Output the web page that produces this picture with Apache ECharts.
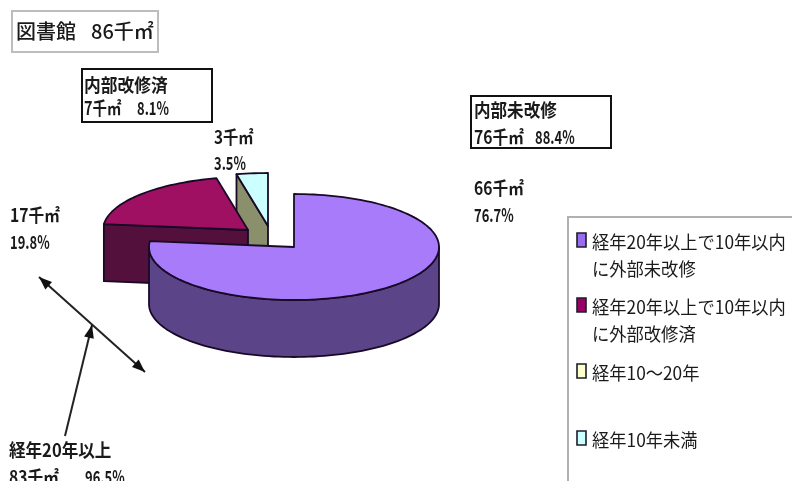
<!DOCTYPE html>
<html>
<head>
<meta charset="utf-8">
<style>html,body{margin:0;padding:0;background:#fff}#c{width:792px;height:481px}</style>
<script src="https://cdn.jsdelivr.net/npm/echarts@6/dist/echarts.min.js"></script>
</head>
<body>
<div id="c"></div>
<script>
// Floor area by building age, in thousand m2
const categories = [['経年20年以上で10年以内', 'に外部未改修'], ['経年20年以上で10年以内', 'に外部改修済'], ['経年10～20年'], ['経年10年未満']];
const values = [66, 17, 0, 3];
const topColors = ['#a87bfb', '#a01062', '#ffffcc', '#ccffff'];
const wallColors = ['#5c4488', '#53103c', '#8c8c66', '#8a8f6c'];
const swatchColors = ['#9a6cf0', '#990066', '#ffffcc', '#ccffff'];
const legendRows = [242, 307, 373, 440];

// Pie geometry: each slice keeps its own exploded centre
const centres = [[294, 247], [248, 230], [258, 226], [268, 226]];
const radiusX = 145, radiusY = 53, depth = 57;
const total = values.reduce((a, b) => a + b, 0);
const drawOrder = [4, 3, 2, 1];

const FONT = '"Noto Sans CJK JP",sans-serif';
const LINE = '#180a26';

function rim(c, deg, drop) {
  const r = deg * Math.PI / 180;
  return [c[0] + radiusX * Math.sin(r), c[1] - radiusY * Math.cos(r) + (drop || 0)];
}
function arc(c, from, to, drop) {
  const pts = [], n = Math.max(2, Math.ceil((to - from) / 2));
  for (let i = 0; i <= n; i++) pts.push(rim(c, from + (to - from) * i / n, drop));
  return pts;
}
function poly(points, fill, z2) {
  return { type: 'polygon', z2, shape: { points }, style: { fill, stroke: LINE, lineWidth: 1.8, lineJoin: 'round' } };
}
function renderSlice(params, api) {
  const i = params.dataIndex, v = api.value(0);
  if (!v) return { type: 'group', children: [] };
  const before = values.slice(0, i).reduce((a, b) => a + b, 0);
  const a0 = before / total * 360, a1 = (before + v) / total * 360;
  const c = centres[i], z = drawOrder[i] * 10, kids = [];
  const cut = (deg) => poly([rim(c, deg), [c[0], c[1]], [c[0], c[1] + depth], rim(c, deg, depth)], wallColors[i], z);
  if (a0 > 180 && a0 < 360) kids.push(cut(a0));
  if (a1 > 0 && a1 < 180) kids.push(cut(a1));
  const w0 = Math.max(a0, 90), w1 = Math.min(a1, 270);
  if (w1 > w0) kids.push(poly(arc(c, w0, w1).concat(arc(c, w0, w1, depth).reverse()), wallColors[i], z));
  kids.push(poly([[c[0], c[1]]].concat(arc(c, a0, a1)), topColors[i], z + 1));
  return { type: 'group', children: kids };
}

// Single-line label placed by left edge and vertical centre, squeezed horizontally
function text(x, y, t, sx, size, weight) {
  return { type: 'text', x, y, z: 5, scaleX: sx || 0.9,
    style: { text: t, font: (weight || 'bold') + ' ' + (size || 18) + 'px ' + FONT, fill: '#1a1a1a', verticalAlign: 'middle' } };
}
function box(x, y, w, h, stroke, lw) {
  return { type: 'rect', z: 4, shape: { x, y, width: w, height: h }, style: { fill: '#fff', stroke, lineWidth: lw } };
}
function seg(a, b) {
  return { type: 'line', z: 5, shape: { x1: a[0], y1: a[1], x2: b[0], y2: b[1] }, style: { stroke: '#222', lineWidth: 2 } };
}
function head(tip, from) {
  const t = Math.atan2(tip[1] - from[1], tip[0] - from[0]), L = 13, W = 5;
  const bx = tip[0] - L * Math.cos(t), by = tip[1] - L * Math.sin(t);
  const nx = -Math.sin(t) * W, ny = Math.cos(t) * W;
  return { type: 'polygon', z: 5, shape: { points: [tip, [bx + nx, by + ny], [bx - nx, by - ny]] }, style: { fill: '#111' } };
}
const ends = [[39, 277], [145, 372], [65, 436], [92, 325]];

const legendItems = [];
categories.forEach((lines, i) => {
  legendItems.push({ type: 'rect', z: 5, shape: { x: 577, y: legendRows[i] - 9, width: 9, height: 14 },
    style: { fill: swatchColors[i], stroke: '#1c1c2a', lineWidth: 1.6 } });
  lines.forEach((line, k) => {
    legendItems.push(text(592, legendRows[i] + k * 27, line, 0.96, 18, 'normal'));
  });
});

const chart = echarts.init(document.getElementById('c'), null, { renderer: 'canvas' });
chart.setOption({
  animation: false,
  backgroundColor: '#fff',
  series: [{
    type: 'custom',
    coordinateSystem: 'none',
    renderItem: renderSlice,
    data: values.map(v => [v]),
    silent: true
  }],
  graphic: [
    box(12, 11, 146, 41, '#bdbdbd', 2),
    text(16, 31, '図書館', 1, 20, '500'),
    text(91, 31, '86千㎡', 1, 20, '500'),
    box(82, 69, 130, 53, '#111', 2),
    text(84, 85, '内部改修済', 0.93),
    text(84, 108, '7千㎡', 0.8),
    text(137, 108, '8.1%', 0.72),
    box(471, 96, 140, 52, '#111', 2),
    text(474, 110, '内部未改修', 0.92),
    text(474, 137, '76千㎡', 0.87),
    text(535, 137, '88.4%', 0.72),
    text(214, 137, '3千㎡', 0.85),
    text(214, 163, '3.5%', 0.72),
    text(10, 215, '17千㎡', 0.87),
    text(10, 242, '19.8%', 0.72),
    text(474, 188, '66千㎡', 0.87),
    text(474, 215, '76.7%', 0.72),
    text(9, 450, '経年20年以上', 0.92),
    text(9, 477, '83千㎡', 0.87),
    text(85, 477, '96.5%', 0.72),
    seg(ends[0], ends[1]), head(ends[0], ends[1]), head(ends[1], ends[0]),
    seg(ends[2], ends[3]), head(ends[3], ends[2]),
    box(568, 217, 240, 290, '#b0b0b0', 2)
  ].concat(legendItems)
});
</script>
</body>
</html>
